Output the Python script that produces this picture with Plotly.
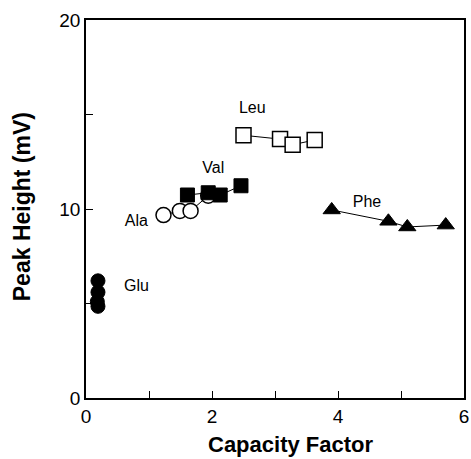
import plotly.graph_objects as go

glu_x = [0.19, 0.19, 0.18, 0.19]
glu_y = [6.2, 5.6, 5.1, 4.85]
ala_x = [1.23, 1.49, 1.66, 1.94]
ala_y = [9.68, 9.9, 9.9, 10.7]
val_x = [1.61, 1.94, 2.13, 2.46]
val_y = [10.74, 10.86, 10.74, 11.23]
leu_x = [2.50, 3.08, 3.28, 3.63]
leu_y = [13.9, 13.7, 13.4, 13.65]
phe_x = [3.9, 4.8, 5.1, 5.71]
phe_y = [9.95, 9.35, 9.05, 9.15]

labels = ["Glu", "Ala", "Val", "Leu", "Phe"]
label_x = [0.8, 0.8, 2.02, 2.64, 4.46]
label_y = [5.85, 9.3, 12.1, 15.3, 10.3]

x_ticks = [0, 1, 2, 3, 4, 5, 6]
x_text = ["0", "", "2", "", "4", "", "6"]
y_ticks = [0, 5, 10, 15, 20]
y_text = ["0", "", "10", "", "20"]

fig = go.Figure()
line = dict(color="black", width=1)

fig.add_trace(go.Scatter(x=ala_x, y=ala_y, mode="lines+markers", line=line,
                         marker=dict(symbol="circle", size=15, color="white",
                                     line=dict(color="black", width=1.5))))
fig.add_trace(go.Scatter(x=val_x, y=val_y, mode="lines+markers", line=line,
                         marker=dict(symbol="square", size=14, color="black",
                                     line=dict(color="black", width=1))))
fig.add_trace(go.Scatter(x=glu_x, y=glu_y, mode="lines+markers", line=line,
                         marker=dict(symbol="circle", size=14, color="black",
                                     line=dict(color="black", width=1))))
fig.add_trace(go.Scatter(x=leu_x, y=leu_y, mode="lines+markers", line=line,
                         marker=dict(symbol="square", size=15, color="white",
                                     line=dict(color="black", width=1.5))))
fig.add_trace(go.Scatter(x=phe_x, y=phe_y, mode="lines+markers", line=line,
                         marker=dict(symbol="triangle-up", size=15, color="black",
                                     line=dict(color="black", width=1))))

fig.add_trace(go.Scatter(x=label_x, y=label_y, mode="text", text=labels,
                         textfont=dict(family="Liberation Sans, Arial", size=16, color="black")))

fig.update_layout(
    width=471, height=459,
    margin=dict(l=86, r=7, t=20, b=61),
    paper_bgcolor="white", plot_bgcolor="white",
    showlegend=False,
    font=dict(family="Liberation Sans, Arial", color="black"),
    annotations=[
        dict(text="<b>Capacity Factor</b>", xref="paper", yref="paper", x=0.54, y=-0.122,
             xanchor="center", yanchor="middle", showarrow=False, font=dict(size=22)),
        dict(text="<b>Peak Height (mV)</b>", xref="paper", yref="paper", x=-0.169, y=0.505,
             xanchor="center", yanchor="middle", showarrow=False, textangle=-90,
             font=dict(size=23)),
    ],
)
fig.update_xaxes(range=[0, 6], tickvals=x_ticks, ticktext=x_text, ticks="inside",
                 ticklen=7, tickwidth=1.2, tickcolor="black", showgrid=False, zeroline=False,
                 showline=True, linecolor="black", linewidth=1.5, mirror=True,
                 tickfont=dict(size=19), automargin=False)
fig.update_yaxes(range=[0, 20], tickvals=y_ticks, ticktext=y_text, ticks="inside",
                 ticklen=7, tickwidth=1.2, tickcolor="black", showgrid=False, zeroline=False,
                 showline=True, linecolor="black", linewidth=1.5, mirror=True,
                 tickfont=dict(size=19), automargin=False)

fig.write_html("out.html")
